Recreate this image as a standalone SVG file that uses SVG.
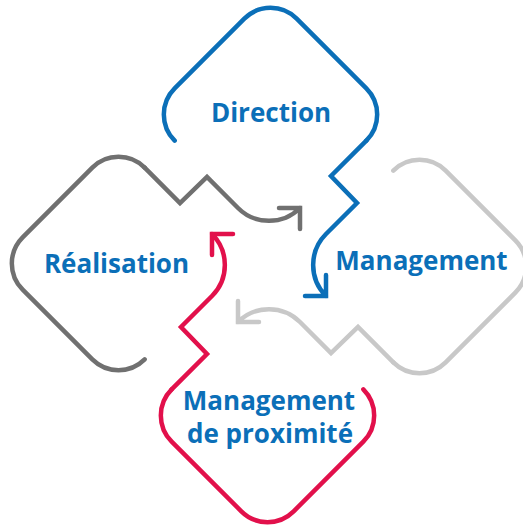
<svg xmlns="http://www.w3.org/2000/svg" width="523" height="527" viewBox="0 0 523 527">
<style>
.s{fill:none;stroke-width:4.5;stroke-linecap:round;stroke-linejoin:miter}
.b{stroke:#0B6FB8}
.g{stroke:#707070}
.l{stroke:#C8C8C8}
.r{stroke:#E2104B}
.t{font-family:"Open Sans","Noto Sans","Liberation Sans",sans-serif;font-weight:700;font-size:26px;fill:#0B6FB8;text-anchor:middle}
</style>
<defs>
<path id="shape" d="M -94.34 -124.34 A 37 37 0 0 1 -94.34 -176.66 L -24.66 -246.34 A 37 37 0 0 1 27.66 -246.34 L 97.34 -176.66 A 37 37 0 0 1 97.34 -124.34"/>
<path id="link" d="M 97.34 -124.34 L 62 -89 L 88 -62 L 57 -31 A 43.84 43.84 0 0 0 57 31 M 36 31 L 57 31 L 57 10"/>
</defs>
<rect width="523" height="527" fill="#fff"/>
<g id="direction">
<use href="#shape" class="s b" transform="translate(269,265)"/>
<text class="t" x="271" y="122">Direction</text>
</g>
<g id="management">
<use href="#shape" class="s l" transform="translate(269,265) rotate(90)"/>
<text class="t" x="421.5" y="270">Management</text>
</g>
<g id="management-proximite">
<use href="#shape" class="s r" transform="translate(269,265) rotate(180)"/>
<text class="t" x="269" y="410">Management</text>
<text class="t" x="270" y="443">de proximité</text>
</g>
<g id="realisation">
<use href="#shape" class="s g" transform="translate(269,265) rotate(270)"/>
<text class="t" x="116.5" y="273">Réalisation</text>
</g>
<g id="connectors">
<use href="#link" class="s b" transform="translate(269,265)"/>
<use href="#link" class="s l" transform="translate(269,265) rotate(90)"/>
<use href="#link" class="s r" transform="translate(269,265) rotate(180)"/>
<use href="#link" class="s g" transform="translate(269,265) rotate(270)"/>
</g>
</svg>
